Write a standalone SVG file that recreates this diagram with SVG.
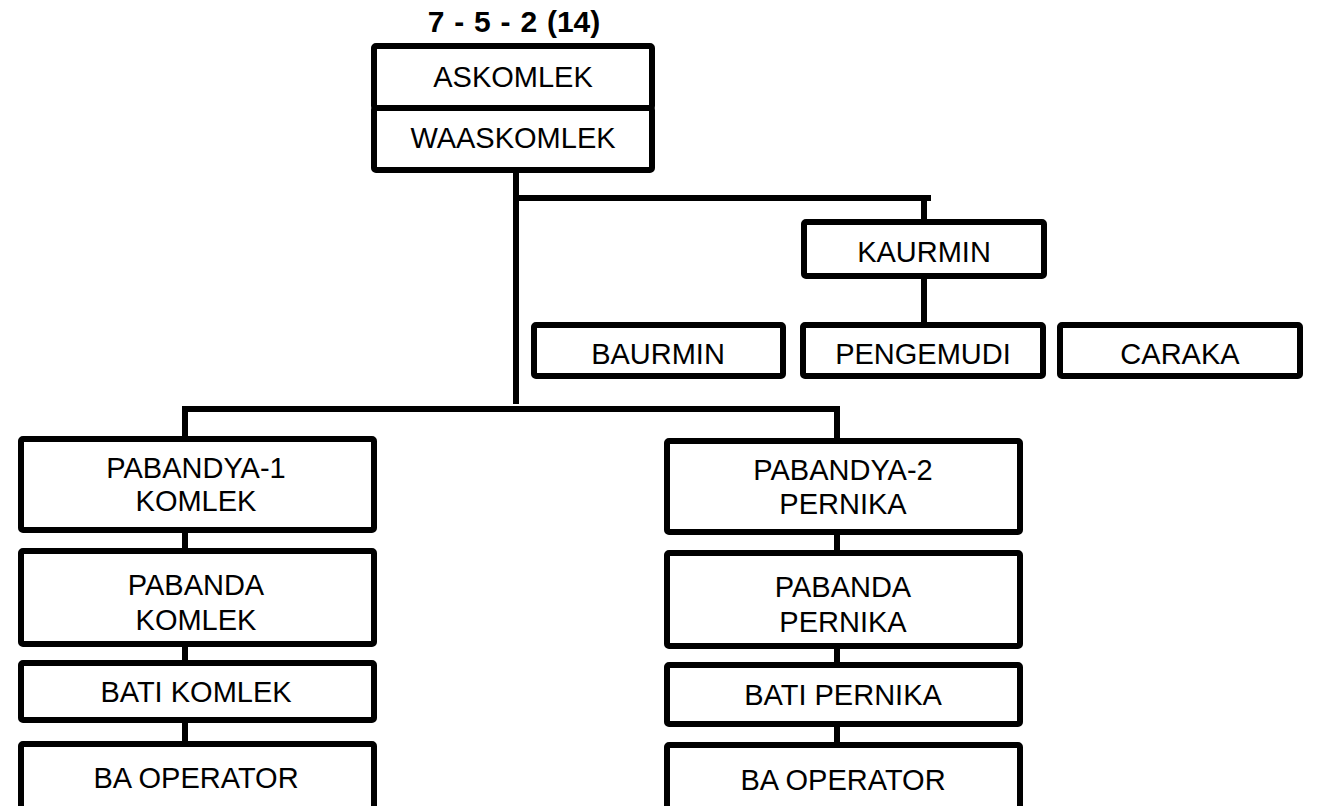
<svg xmlns="http://www.w3.org/2000/svg" width="1322" height="806" viewBox="0 0 1322 806">
<style>
.box{fill:#fff;stroke:#000;stroke-width:6;stroke-linejoin:round}
.ln{fill:none;stroke:#000;stroke-width:6;stroke-linecap:square}
text{font-family:"Liberation Sans",Arial,sans-serif;font-size:29px;fill:#000;text-anchor:middle}
.title{font-weight:bold;font-size:30px;word-spacing:1.5px}
</style>
<rect width="1322" height="806" fill="#fff"/>
<g id="connectors">
<line class="ln" x1="516" y1="173" x2="516" y2="401"/>
<line class="ln" x1="516" y1="198" x2="928" y2="198"/>
<line class="ln" x1="924" y1="198" x2="924" y2="220"/>
<line class="ln" x1="924" y1="278" x2="924" y2="322"/>
<line class="ln" x1="185" y1="409" x2="837" y2="409"/>
<line class="ln" x1="185" y1="409" x2="185" y2="437"/>
<line class="ln" x1="837" y1="409" x2="837" y2="438"/>
<line class="ln" x1="185" y1="533" x2="185" y2="548"/>
<line class="ln" x1="185" y1="647" x2="185" y2="660"/>
<line class="ln" x1="185" y1="723" x2="185" y2="741"/>
<line class="ln" x1="837" y1="535" x2="837" y2="550"/>
<line class="ln" x1="837" y1="649" x2="837" y2="662"/>
<line class="ln" x1="837" y1="727" x2="837" y2="742"/>
</g>
<text class="title" x="514" y="32">7 - 5 - 2 (14)</text>
<g id="askomlek">
<rect class="box" x="374" y="46" width="278" height="62" rx="2"/>
<text x="513" y="87">ASKOMLEK</text>
</g>
<g id="waaskomlek">
<rect class="box" x="374" y="108" width="278" height="62" rx="2"/>
<text x="513" y="148">WAASKOMLEK</text>
</g>
<g id="kaurmin">
<rect class="box" x="804" y="222" width="240" height="54" rx="2"/>
<text x="924" y="262">KAURMIN</text>
</g>
<g id="baurmin">
<rect class="box" x="534" y="325" width="249" height="51" rx="2"/>
<text x="658" y="364">BAURMIN</text>
</g>
<g id="pengemudi">
<rect class="box" x="803" y="325" width="240" height="51" rx="2"/>
<text x="923" y="364">PENGEMUDI</text>
</g>
<g id="caraka">
<rect class="box" x="1060" y="325" width="240" height="51" rx="2"/>
<text x="1180" y="364">CARAKA</text>
</g>
<g id="pabandya1">
<rect class="box" x="21" y="439" width="353" height="91" rx="2"/>
<text x="196" y="478">PABANDYA-1</text>
<text x="196" y="511">KOMLEK</text>
</g>
<g id="pabanda-komlek">
<rect class="box" x="21" y="551" width="353" height="93" rx="2"/>
<text x="196" y="595">PABANDA</text>
<text x="196" y="630">KOMLEK</text>
</g>
<g id="bati-komlek">
<rect class="box" x="21" y="663" width="353" height="57" rx="2"/>
<text x="196" y="702">BATI KOMLEK</text>
</g>
<g id="ba-operator-1">
<rect class="box" x="21" y="744" width="353" height="80" rx="2"/>
<text x="196" y="788">BA OPERATOR</text>
</g>
<g id="pabandya2">
<rect class="box" x="667" y="441" width="353" height="91" rx="2"/>
<text x="843" y="480">PABANDYA-2</text>
<text x="843" y="514">PERNIKA</text>
</g>
<g id="pabanda-pernika">
<rect class="box" x="667" y="553" width="353" height="93" rx="2"/>
<text x="843" y="597">PABANDA</text>
<text x="843" y="632">PERNIKA</text>
</g>
<g id="bati-pernika">
<rect class="box" x="667" y="665" width="353" height="59" rx="2"/>
<text x="843" y="705">BATI PERNIKA</text>
</g>
<g id="ba-operator-2">
<rect class="box" x="667" y="745" width="353" height="80" rx="2"/>
<text x="843" y="790">BA OPERATOR</text>
</g>
</svg>
